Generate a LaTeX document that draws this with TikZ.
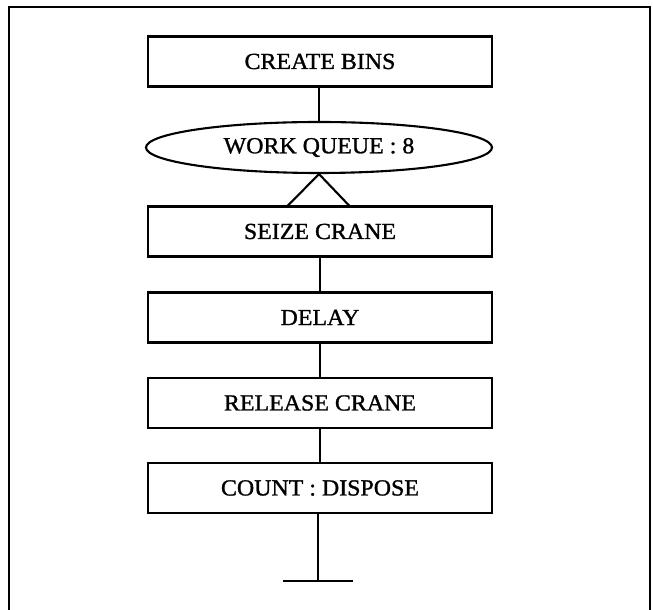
\documentclass[tikz,border=0pt]{standalone}
\usepackage{fontspec}
\setmainfont[FakeBold=1.2,FakeStretch=1.04]{Liberation Serif}
\usetikzlibrary{shapes.geometric}
\begin{document}
\begin{tikzpicture}[x=1pt,y=1pt,
  line width=2.1pt,
  blockbox/.style={draw, rectangle, minimum width=344pt, minimum height=50pt, inner sep=0pt,
    font=\fontsize{23}{27}\selectfont},
  queuebox/.style={draw, ellipse, minimum width=346pt, minimum height=51pt, inner sep=0pt,
    font=\fontsize{23}{27}\selectfont},
  conn/.style={line width=2.1pt}]
\useasboundingbox (0,0) rectangle (653,610);
% outer frame (open at bottom)
\draw[line width=1.8pt] (9,-5) -- (9,603) -- (650,603) -- (650,-5);
\node[blockbox] (create) at (320,548.5) {CREATE BINS};
\node[queuebox] (queue) at (319,462.5) {WORK QUEUE : 8};
\node[blockbox] (seize) at (320,378.5) {SEIZE CRANE};
\node[blockbox] (delay) at (320,292.5) {DELAY};
\node[blockbox] (release) at (320,207) {RELEASE CRANE};
\node[blockbox] (count) at (320,122) {COUNT : DISPOSE};
\coordinate (wl) at (287,403.5);
\coordinate (wr) at (350,403.5);
\coordinate (term) at (318,29);
\coordinate (tl) at (283,29);
\coordinate (tr) at (353,29);
\draw[conn] (create.south -| queue.north) -- (queue.north);
\draw[conn] (wl) -- (queue.south) -- (wr);
\draw[conn] (seize.south) -- (delay.north);
\draw[conn] (delay.south) -- (release.north);
\draw[conn] (release.south) -- (count.north);
\draw[conn] (count.south -| term) -- (term);
\draw[conn] (tl) -- (tr);
\end{tikzpicture}
\end{document}
